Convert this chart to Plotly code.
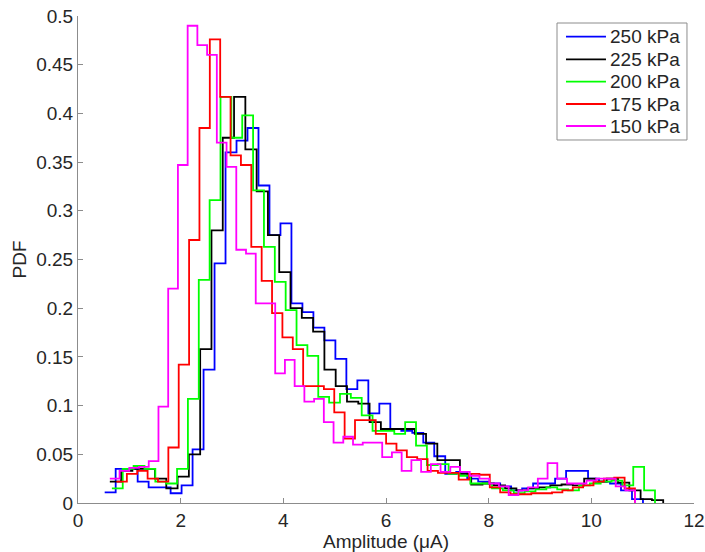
import plotly.graph_objects as go

# ---- data (histogram PDFs, each with its own bin start / width) ----
labels = ["250 kPa", "225 kPa", "200 kPa", "175 kPa", "150 kPa"]
colors = ["#0000FF", "#000000", "#00FF00", "#FF0000", "#FF00FF"]

start_250, width_250 = 0.52, 0.214
pdf_250 = [0.011, 0.035, 0.035, 0.022, 0.016, 0.016, 0.010, 0.018, 0.055, 0.137,
           0.246, 0.360, 0.372, 0.385, 0.326, 0.275, 0.287, 0.205, 0.196, 0.180,
           0.167, 0.148, 0.117, 0.126, 0.092, 0.102, 0.076, 0.074, 0.072, 0.062,
           0.048, 0.030, 0.032, 0.025, 0.022, 0.020, 0.017, 0.013, 0.015, 0.020,
           0.020, 0.025, 0.033, 0.033, 0.025, 0.022, 0.020, 0.013, 0.004]

start_225, width_225 = 0.62, 0.22
pdf_225 = [0.022, 0.033, 0.035, 0.035, 0.025, 0.015, 0.027, 0.050, 0.158, 0.280,
           0.375, 0.417, 0.363, 0.320, 0.275, 0.237, 0.200, 0.190, 0.176, 0.137,
           0.120, 0.104, 0.102, 0.083, 0.076, 0.076, 0.076, 0.071, 0.061, 0.044,
           0.044, 0.030, 0.019, 0.020, 0.018, 0.015, 0.013, 0.015, 0.016, 0.018,
           0.019, 0.018, 0.025, 0.022, 0.025, 0.021, 0.013, 0.004, 0.003]

start_200, width_200 = 0.66, 0.2116
pdf_200 = [0.015, 0.035, 0.038, 0.035, 0.022, 0.020, 0.035, 0.107, 0.229, 0.311,
           0.417, 0.375, 0.398, 0.321, 0.263, 0.227, 0.198, 0.162, 0.151, 0.109,
           0.103, 0.112, 0.108, 0.090, 0.074, 0.074, 0.071, 0.083, 0.059, 0.039,
           0.040, 0.030, 0.028, 0.020, 0.020, 0.015, 0.013, 0.010, 0.012, 0.014,
           0.016, 0.014, 0.013, 0.018, 0.020, 0.022, 0.023, 0.018, 0.037, 0.013]

start_175, width_175 = 0.75, 0.202
pdf_175 = [0.022, 0.030, 0.033, 0.025, 0.022, 0.057, 0.142, 0.270, 0.385, 0.476,
           0.417, 0.357, 0.347, 0.263, 0.228, 0.195, 0.170, 0.158, 0.120, 0.120,
           0.117, 0.093, 0.066, 0.085, 0.085, 0.071, 0.061, 0.054, 0.047, 0.045,
           0.033, 0.031, 0.031, 0.024, 0.030, 0.029, 0.016, 0.011, 0.009, 0.009,
           0.010, 0.010, 0.011, 0.013, 0.016, 0.018, 0.022, 0.025, 0.026, 0.015]

start_150, width_150 = 0.62, 0.1895
pdf_150 = [0.025, 0.033, 0.036, 0.037, 0.043, 0.099, 0.220, 0.347, 0.490, 0.470,
           0.460, 0.370, 0.345, 0.260, 0.256, 0.205, 0.205, 0.133, 0.147, 0.120,
           0.104, 0.107, 0.083, 0.062, 0.068, 0.060, 0.062, 0.062, 0.047, 0.052,
           0.033, 0.044, 0.032, 0.040, 0.032, 0.037, 0.032, 0.028, 0.025, 0.020,
           0.017, 0.008, 0.013, 0.016, 0.025, 0.041, 0.025, 0.020, 0.020, 0.023,
           0.025, 0.025, 0.017, 0.013]

series = [
    (start_250, width_250, pdf_250),
    (start_225, width_225, pdf_225),
    (start_200, width_200, pdf_200),
    (start_175, width_175, pdf_175),
    (start_150, width_150, pdf_150),
]

x_ticks = [0, 2, 4, 6, 8, 10, 12]
y_ticks = [0, 0.05, 0.1, 0.15, 0.2, 0.25, 0.3, 0.35, 0.4, 0.45, 0.5]
y_ticktext = ["0", "0.05", "0.1", "0.15", "0.2", "0.25", "0.3", "0.35", "0.4", "0.45", "0.5"]

FONT = "Liberation Sans, Arial, sans-serif"
TXT = "#262626"
AX = "#8c8c8c"
FS = 19

fig = go.Figure()
for (s, w, h), name, col in zip(series, labels, colors):
    edges = [s + w * i for i in range(len(h) + 1)]
    fig.add_trace(go.Scatter(
        x=edges, y=list(h) + [0], mode="lines", name=name,
        line=dict(color=col, width=1.8, shape="hv"), showlegend=False,
    ))

# legend drawn in paper coordinates (MATLAB-style compact box)
shapes = [dict(type="rect", xref="paper", yref="paper", x0=0.7776, x1=0.9886,
               y0=0.7454, y1=0.9856, line=dict(color=AX, width=1), fillcolor="white", layer="above")]
annotations = []
leg_y = [0.9575, 0.9111, 0.8651, 0.8193, 0.7741]
for name, col, yy in zip(labels, colors, leg_y):
    shapes.append(dict(type="line", xref="paper", yref="paper", x0=0.7922, x1=0.8571,
                       y0=yy, y1=yy, line=dict(color=col, width=1.8), layer="above"))
    annotations.append(dict(text=name, xref="paper", yref="paper", x=0.861, y=yy,
                            xanchor="left", yanchor="middle", showarrow=False,
                            font=dict(family=FONT, size=FS, color=TXT)))

fig.update_layout(
    width=705, height=552,
    margin=dict(l=78, r=11, t=16, b=49, autoexpand=False),
    paper_bgcolor="white", plot_bgcolor="white",
    font=dict(family=FONT, size=FS, color=TXT),
    showlegend=False,
    shapes=shapes, annotations=annotations,
    xaxis=dict(
        range=[0, 12], tickvals=x_ticks, ticktext=[str(v) for v in x_ticks],
        showgrid=False, zeroline=False, showline=True, linecolor=AX, linewidth=1,
        ticks="inside", ticklen=5, tickcolor=AX, automargin=False,
        ticklabeloverflow="allow",
        tickfont=dict(family=FONT, size=FS, color=TXT),
        title=dict(text="Amplitude (\u03bcA)", font=dict(family=FONT, size=FS, color=TXT), standoff=0),
    ),
    yaxis=dict(
        range=[0, 0.5], tickvals=y_ticks, ticktext=y_ticktext,
        showgrid=False, zeroline=False, showline=True, linecolor=AX, linewidth=1,
        ticks="inside", ticklen=5, tickcolor=AX, automargin=False,
        ticklabeloverflow="allow",
        tickfont=dict(family=FONT, size=FS, color=TXT),
        title=dict(text="PDF", font=dict(family=FONT, size=FS, color=TXT), standoff=4),
    ),
)

fig.write_html(
    "out.html",
    config={"displayModeBar": False},
    post_script="document.body.style.margin='0';document.body.style.overflow='hidden';",
)
